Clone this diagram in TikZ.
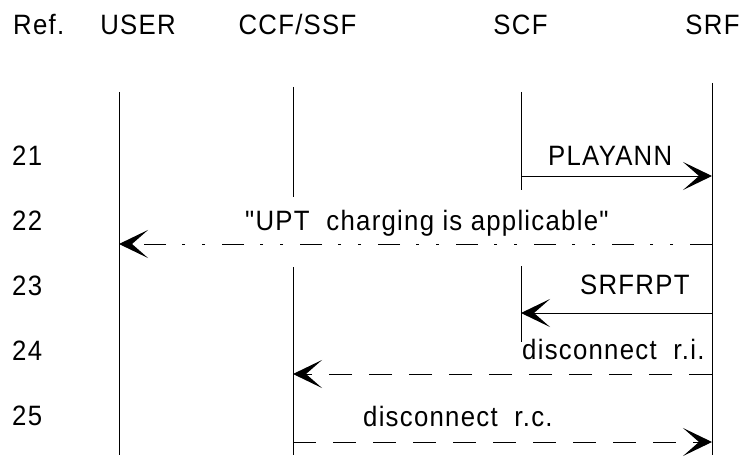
\documentclass[tikz,border=0pt]{standalone}
\usepackage{fontspec}
\newfontfamily\lbfont{Liberation Sans}[LetterSpace=4.5,FakeStretch=0.92]
\usetikzlibrary{arrows.meta}
\begin{document}
\begin{tikzpicture}[x=1pt,y=-1pt,
  lbl/.style={inner sep=0pt,font=\lbfont\fontsize{28pt}{33pt}\selectfont},
  life/.style={line width=1pt,black},
  msg/.style={line width=1pt,-{Stealth[length=29pt,width=28pt,inset=16pt]}},
  dashmsg/.style={msg,dash pattern=on 23pt off 17pt},
  dotmsg/.style={msg,dash pattern=on 22pt off 17pt on 3pt off 17pt on 3pt off 16pt}]
\useasboundingbox (0,0) rectangle (743,457);
% headers
\node[lbl,anchor=base west] (href) at (13,35) {Ref.};
\node[lbl,anchor=base] (huser) at (138,35) {USER};
\node[lbl,anchor=base] (hccf) at (297.5,35) {CCF/SSF};
\node[lbl,anchor=base] (hscf) at (520.5,35) {SCF};
\node[lbl,anchor=base] (hsrf) at (712.5,35) {SRF};
% row numbers
\node[lbl,anchor=base west] (r21) at (12,165) {21};
\node[lbl,anchor=base west] (r22) at (12,230) {22};
\node[lbl,anchor=base west] (r23) at (12,295) {23};
\node[lbl,anchor=base west] (r24) at (12,360) {24};
\node[lbl,anchor=base west] (r25) at (12,425) {25};
% lifeline coordinates
\coordinate (userT) at (119,92);
\coordinate (userB) at (119,455);
\coordinate (ccfT) at (293,87);
\coordinate (ccfM1) at (293,197);
\coordinate (ccfM2) at (293,267);
\coordinate (ccfB) at (293,455);
\coordinate (scfT) at (521,92);
\coordinate (scfM1) at (521,190);
\coordinate (scfM2) at (521,266);
\coordinate (scfB) at (521,342);
\coordinate (srfT) at (712,83);
\coordinate (srfB) at (712,455);
\draw[life] (userT) -- (userB);
\draw[life] (ccfT) -- (ccfM1);
\draw[life] (ccfM2) -- (ccfB);
\draw[life] (scfT) -- (scfM1);
\draw[life] (scfM2) -- (scfB);
\draw[life] (srfT) -- (srfB);
% message endpoints
\coordinate (scf21) at (521,176);
\coordinate (srf21) at (712,176);
\coordinate (srf22) at (712,244);
\coordinate (user22) at (119,244);
\coordinate (srf23) at (712,313);
\coordinate (scf23) at (521,313);
\coordinate (srf24) at (712,374);
\coordinate (ccf24) at (293,374);
\coordinate (ccf25) at (293,442);
\coordinate (srf25) at (712,442);
\draw[msg] (scf21) -- (srf21);
\draw[dotmsg] (srf22) -- (user22);
\draw[msg] (srf23) -- (scf23);
\draw[dashmsg] (srf24) -- (ccf24);
\draw[dashmsg] (ccf25) -- (srf25);
% labels
\node[lbl,anchor=base west] (l21) at (548,165) {PLAYANN};
\node[lbl,anchor=base west] (l22) at (245,230) {"UPT\ \ charging is applicable"};
\node[lbl,anchor=base west] (l23) at (580,294) {SRFRPT};
\node[lbl,anchor=base west] (l24) at (522,359) {disconnect\ \ r.i.};
\node[lbl,anchor=base west] (l25) at (363,426) {disconnect\ \ r.c.};
\end{tikzpicture}
\end{document}
